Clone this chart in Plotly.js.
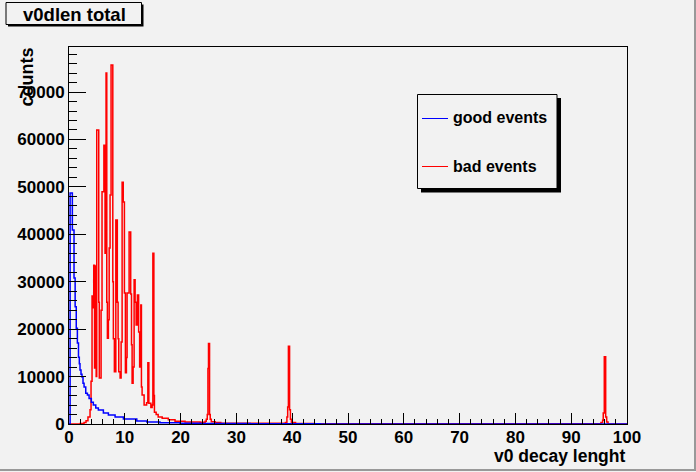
<!DOCTYPE html>
<html>
<head>
<meta charset="utf-8">
<script src="https://cdn.plot.ly/plotly-3.0.1.min.js"></script>
<style>html,body{margin:0;padding:0;background:#f2f2f2;}#chart{width:696px;height:472px;}</style>
</head>
<body>
<div id="chart"></div>
<script>
// ---- data ----
const chartTitle = "v0dlen total";
const xTitle = "v0 decay lenght";
const yTitle = "counts";
const goodName = "good events";
const badName = "bad events";

// bad events: low bin edges and contents
const badEdges = [0, 2.0, 2.7, 3.05, 3.4, 3.77, 3.95, 4.13, 4.31, 4.43, 4.58, 4.72, 4.87, 4.97, 5.33, 5.43, 5.75, 5.92, 6.25, 6.46, 6.64, 6.77, 6.88, 7.06, 7.2, 7.36, 7.54, 7.85, 7.95, 8.13, 8.39, 8.66, 8.8, 8.92, 9.16, 9.34, 9.52, 9.72, 9.93, 10.11, 10.29, 10.41, 10.77, 11.06, 11.2, 11.31, 11.49, 11.67, 11.85, 12.03, 12.26, 12.48, 12.66, 12.87, 12.98, 13.1, 13.46, 13.91, 14.13, 14.31, 14.67, 14.9, 15.03, 15.21, 15.31, 15.62, 15.98, 16.7, 17.8, 19.0, 20.8, 23.5, 24.4, 24.6, 24.78, 24.9, 25.0, 25.19, 25.31, 25.5, 26.2, 27.2, 38.78, 39.05, 39.19, 39.32, 39.53, 39.68, 39.86, 40.6, 44, 95.33, 95.63, 95.74, 95.93, 96.18, 96.36, 96.6, 100];
const badCounts = [0, 100, 300, 700, 1500, 3000, 9000, 27000, 24500, 33500, 11800, 33300, 10000, 62000, 25700, 9700, 24000, 49000, 58800, 36000, 74000, 25700, 18100, 22000, 37100, 48300, 75700, 30000, 18000, 11000, 43000, 25700, 18000, 11000, 9700, 17300, 51000, 46800, 27600, 10800, 14000, 27600, 40500, 27400, 16700, 8600, 12000, 30400, 25700, 20900, 27200, 19400, 12000, 25100, 7800, 6100, 4000, 4500, 12900, 4400, 3500, 4000, 36000, 6000, 2500, 2000, 1500, 1200, 900, 600, 400, 350, 600, 1000, 2000, 11700, 17000, 2000, 1000, 500, 300, 150, 300, 1500, 3600, 16400, 3000, 1000, 300, 100, 50, 300, 800, 2300, 14200, 1500, 400, 0, 0];

// good events
const goodEdges = [0, 0.2, 0.6, 0.9, 1.1, 1.3, 1.5, 1.7, 1.85, 1.97, 2.15, 2.33, 2.51, 2.7, 3.0, 3.3, 3.6, 4.0, 4.36, 4.8, 5.26, 6.16, 7.06, 8.26, 9.75, 12.15, 13.95, 16.3, 19.9, 23.5, 32.5, 45, 100];
const goodCounts = [0, 48700, 40900, 30800, 24700, 20200, 17100, 14100, 12700, 11400, 10500, 9900, 8600, 7800, 6500, 6100, 5400, 4600, 4000, 3400, 2950, 2300, 1900, 1500, 1050, 630, 420, 250, 150, 80, 30, 10, 10];

const xRange = [0, 100];
const yRange = [0, 79500];

// ---- layout helpers (pixel -> paper coordinates of the 696x472 canvas) ----
const L = 69, R = 627, T = 47, B = 424;
const px = v => (v - L) / (R - L);
const py = v => (B - v) / (B - T);

const FONT = "Liberation Sans, Arial, Helvetica, sans-serif";

const traces = [
  {x: badEdges, y: badCounts, type: "scatter", mode: "lines", name: badName,
   line: {shape: "hv", color: "#ff0000", width: 1.5}, hoverinfo: "skip"},
  {x: goodEdges, y: goodCounts, type: "scatter", mode: "lines", name: goodName,
   line: {shape: "hv", color: "#0000ff", width: 1.5}, hoverinfo: "skip"}
];

const tickFont = {family: FONT, size: 17, color: "#000", weight: "bold"};

const layout = {
  width: 696, height: 472,
  paper_bgcolor: "#f2f2f2", plot_bgcolor: "#f2f2f2",
  margin: {l: L, r: 696 - R, t: T, b: 472 - B, pad: 0},
  showlegend: false,
  font: {family: FONT, color: "#000"},
  xaxis: {
    range: xRange, tick0: 0, dtick: 10, ticks: "inside", ticklen: 11, tickwidth: 1, tickcolor: "#000",
    showline: true, linecolor: "#000", linewidth: 1, mirror: true,
    showgrid: false, zeroline: false, tickfont: tickFont, ticklabelstandoff: -2,
    minor: {dtick: 2, ticks: "inside", ticklen: 5.5, tickwidth: 1, tickcolor: "#000", showgrid: false}
  },
  yaxis: {
    range: yRange, tick0: 0, dtick: 10000, tickformat: "d", ticks: "inside", ticklen: 16.7, tickwidth: 1, tickcolor: "#000",
    showline: true, linecolor: "#000", linewidth: 1, mirror: true,
    showgrid: false, zeroline: false, tickfont: tickFont, ticklabelstandoff: 0,
    minor: {dtick: 2000, ticks: "inside", ticklen: 8, tickwidth: 1, tickcolor: "#000", showgrid: false}
  },
  shapes: [
    // canvas bevel border (right / bottom)
    {type: "line", xref: "paper", yref: "paper", x0: px(695), x1: px(695), y0: py(0), y1: py(471), line: {color: "#999", width: 2}, layer: "above"},
    {type: "line", xref: "paper", yref: "paper", x0: px(0), x1: px(696), y0: py(470), y1: py(470), line: {color: "#999", width: 2}, layer: "above"},
    // title box shadow and box
    {type: "rect", xref: "paper", yref: "paper", x0: px(8), x1: px(143.5), y0: py(4.5), y1: py(26.5), fillcolor: "#000", line: {width: 0}, layer: "above"},
    {type: "rect", xref: "paper", yref: "paper", x0: px(6), x1: px(141.5), y0: py(2.5), y1: py(24.5), fillcolor: "#f2f2f2", line: {color: "#000", width: 1}, layer: "above"},
    // legend shadow and box
    {type: "rect", xref: "paper", yref: "paper", x0: px(421), x1: px(561), y0: py(98), y1: py(192.5), fillcolor: "#000", line: {width: 0}, layer: "above"},
    {type: "rect", xref: "paper", yref: "paper", x0: px(417.5), x1: px(557), y0: py(94.5), y1: py(188.5), fillcolor: "#f2f2f2", line: {color: "#000", width: 1}, layer: "above"},
    // legend samples
    {type: "line", xref: "paper", yref: "paper", x0: px(422), x1: px(448), y0: py(118.5), y1: py(118.5), line: {color: "#0000ff", width: 1}, layer: "above"},
    {type: "line", xref: "paper", yref: "paper", x0: px(422), x1: px(448), y0: py(166.5), y1: py(166.5), line: {color: "#ff0000", width: 1}, layer: "above"}
  ],
  annotations: [
    {text: chartTitle, xref: "paper", yref: "paper", x: px(74), y: py(14), xanchor: "center", yanchor: "middle", showarrow: false,
     font: {family: FONT, size: 18.5, color: "#000", weight: "bold"}},
    {text: goodName, xref: "paper", yref: "paper", x: px(451), y: py(118), xanchor: "left", yanchor: "middle", showarrow: false,
     font: {family: FONT, size: 16, color: "#000", weight: "bold"}},
    {text: badName, xref: "paper", yref: "paper", x: px(451), y: py(166), xanchor: "left", yanchor: "middle", showarrow: false,
     font: {family: FONT, size: 16, color: "#000", weight: "bold"}},
    {text: xTitle, xref: "paper", yref: "paper", x: px(627), y: py(456), xanchor: "right", yanchor: "middle", showarrow: false,
     font: {family: FONT, size: 17.5, color: "#000", weight: "bold"}},
    {text: yTitle, xref: "paper", yref: "paper", x: px(26), y: py(46), xanchor: "center", yanchor: "top", textangle: -90, showarrow: false,
     font: {family: FONT, size: 18, color: "#000", weight: "bold"}}
  ]
};

Plotly.newPlot("chart", traces, layout, {staticPlot: true, displayModeBar: false});
</script>
</body>
</html>
